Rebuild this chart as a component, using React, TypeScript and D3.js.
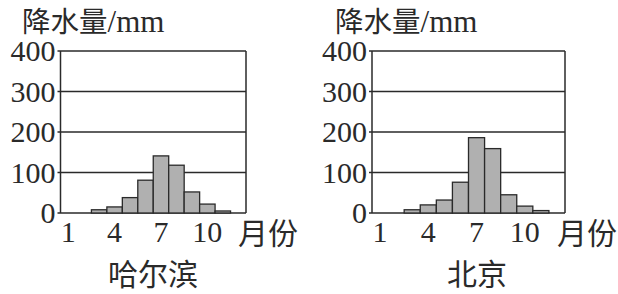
import React from "react";
import * as d3 from "d3";

const months = [1, 2, 3, 4, 5, 6, 7, 8, 9, 10, 11, 12];
const harbinRain = [0, 0, 8, 15, 38, 81, 141, 118, 52, 22, 5, 0];
const beijingRain = [0, 0, 8, 20, 32, 76, 186, 159, 45, 17, 6, 0];
const yTicks = [0, 100, 200, 300, 400];
const xTickLabels = [1, 4, 7, 10];
const cities = ["哈尔滨", "北京"];
const yTitle = "降水量";
const yUnit = "/mm";
const xUnit = "月份";

const serif = "'Liberation Serif', 'DejaVu Serif', serif";
const cjk = "'Noto Sans CJK SC', sans-serif";
const ink = "#2a2a2a";

type PanelProps = {
  data: number[];
  city: string;
  x0: number;
  x1: number;
  titleX: number;
  cityX: number;
  unitX: number;
};

function Panel({ data, city, x0, x1, titleX, cityX, unitX }: PanelProps) {
  const x = d3.scaleBand<number>().domain(months).range([x0, x1]).padding(0);
  const y = d3.scaleLinear().domain([0, 400]).range([213, 51]);
  return (
    <g>
      {/* title */}
      <text x={titleX} y={32} fill={ink}>
        <tspan fontFamily={cjk} fontSize={28.5}>{yTitle}</tspan>
        <tspan fontFamily={serif} fontSize={31}>{yUnit}</tspan>
      </text>
      {/* grid lines */}
      {yTicks.map((t) => (
        <line key={"g" + t} x1={x0 - 3} x2={x1} y1={y(t)} y2={y(t)} stroke={ink} strokeWidth={1.5} />
      ))}
      {/* bars */}
      {data.map((v, i) =>
        v > 0 ? (
          <rect
            key={"b" + i}
            x={x(months[i])!}
            width={x.bandwidth()}
            y={y(v)}
            height={y(0) - y(v)}
            fill="#b0b0b0"
            stroke={ink}
            strokeWidth={1.3}
          />
        ) : null
      )}
      {/* frame */}
      <line x1={x0} x2={x0} y1={y(400)} y2={y(0)} stroke={ink} strokeWidth={1.5} />
      <line x1={x1} x2={x1} y1={y(400)} y2={y(0)} stroke={ink} strokeWidth={1.5} />
      {/* y labels */}
      {yTicks.map((t) => (
        <text
          key={"yl" + t}
          x={x0 - 5}
          y={y(t) + 10}
          textAnchor="end"
          fontFamily={serif}
          fontSize={30}
          fill={ink}
        >
          {t}
        </text>
      ))}
      {/* x labels */}
      {xTickLabels.map((m) => (
        <text
          key={"xl" + m}
          x={x(m)! + x.bandwidth() / 2}
          y={242}
          textAnchor="middle"
          fontFamily={serif}
          fontSize={30}
          fill={ink}
        >
          {m}
        </text>
      ))}
      <text x={unitX} y={244} fontFamily={cjk} fontSize={30} fill={ink}>
        {xUnit}
      </text>
      <text x={cityX} y={285} textAnchor="middle" fontFamily={cjk} fontSize={30} fill={ink}>
        {city}
      </text>
    </g>
  );
}

export default function App() {
  return (
    <svg
      width={618}
      height={294}
      style={{ position: "absolute", left: 0, top: 0, background: "#fff" }}
    >
      <rect width={618} height={294} fill="#fff" />
      <Panel data={harbinRain} city={cities[0]} x0={60.5} x1={246} titleX={22} cityX={153} unitX={238} />
      <Panel data={beijingRain} city={cities[1]} x0={372} x1={565} titleX={335} cityX={477} unitX={557} />
    </svg>
  );
}
